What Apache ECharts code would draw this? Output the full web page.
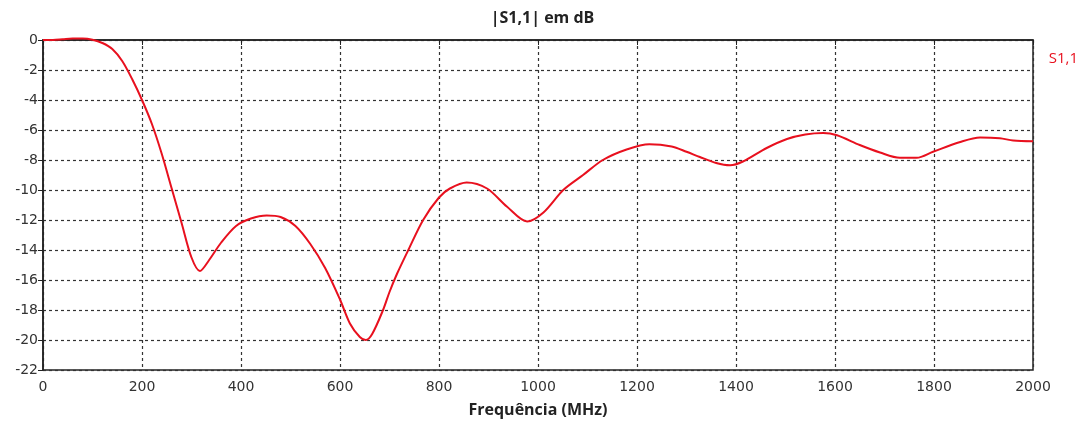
<!DOCTYPE html>
<html>
<head>
<meta charset="utf-8">
<script src="https://cdn.jsdelivr.net/npm/echarts@6/dist/echarts.min.js"></script>
<style>
    html, body { margin: 0; padding: 0; background: #fff; }
    #display-chart { width: 1085px; height: 421px; }
</style>
</head>
<body>
<div id="display-chart"></div>
<script>
// 频率 (MHz)
var freq = [0, 20, 40, 60, 80, 100, 120, 140, 160, 180, 200, 220, 240, 260, 280, 300, 317, 335, 360, 390,
    420, 452, 480, 510, 540, 570, 600, 620, 640, 652, 665, 687, 700, 715, 738, 768, 800, 822, 856, 897,
    937, 978, 1011, 1051, 1091, 1131, 1179, 1225, 1270, 1300, 1327, 1360, 1388, 1414, 1462, 1503, 1540,
    1576, 1604, 1650, 1691, 1731, 1765, 1798, 1853, 1893, 1933, 1960, 2000];
// |S1,1| (dB)
var s11 = [0, 0, 0.05, 0.1, 0.1, 0.02, -0.2, -0.6, -1.4, -2.6, -4, -5.6, -7.6, -9.9, -12.2, -14.5, -15.4, -14.7, -13.5, -12.4,
    -11.9, -11.7, -11.8, -12.4, -13.6, -15.2, -17.3, -18.9, -19.8, -20, -19.6, -18, -16.8, -15.6, -14, -12, -10.5, -9.9, -9.5, -9.9,
    -11.1, -12.1, -11.5, -10, -9, -8, -7.3, -6.95, -7.1, -7.45, -7.8, -8.2, -8.35, -8.1, -7.2, -6.6, -6.3,
    -6.2, -6.35, -7, -7.5, -7.85, -7.85, -7.45, -6.8, -6.5, -6.55, -6.7, -6.75];
var seriesName = 'S1,1';

generateChart();

function generateChart() {
    var myChart = echarts.init(document.getElementById("display-chart"));
    var points = [];
    for (var i = 0; i < freq.length; i++) {
        points.push([freq[i], s11[i]]);
    }
    myChart.setOption({
        animation: false,
        title: {
            text: '|S1,1| em dB',
            left: 'center',
            top: 5,
            textStyle: {
                fontFamily: 'Open Sans',
                fontSize: 16,
                fontWeight: 'bold',
                color: '#222'
            }
        },
        legend: { //图例
            right: 2,
            top: 46,
            icon: 'none',
            itemWidth: 0,
            data: [seriesName],
            textStyle: {
                color: '#e8101e',
                fontFamily: 'Open Sans',
                fontSize: 15
            }
        },
        grid: {
            left: 43,
            right: 52,
            top: 40,
            bottom: 51,
            outerBoundsMode: 'none',
            show: true,
            borderColor: '#222',
            borderWidth: 1.5
        },
        xAxis: {
            type: 'value',
            min: 0,
            max: 2000,
            interval: 200,
            name: 'Frequência (MHz)',
            nameLocation: 'middle',
            nameGap: 32,
            nameTextStyle: {
                fontFamily: 'Open Sans',
                fontSize: 16,
                fontWeight: 'bold',
                color: '#222'
            },
            axisLine: { lineStyle: { color: '#222', width: 1.5 } },
            axisTick: { show: true, length: 5, lineStyle: { color: '#222' } },
            axisLabel: {
                fontFamily: 'DejaVu Sans',
                fontSize: 14,
                color: '#333',
                margin: 10,
                formatter: function (v) { return String(v); }
            },
            splitLine: {
                lineStyle: { color: '#333', type: [3, 3], width: 1.2 }
            }
        },
        yAxis: {
            type: 'value',
            min: -22,
            max: 0,
            interval: 2,
            axisLine: { show: true, lineStyle: { color: '#222', width: 1.5 } },
            axisTick: { show: true, length: 5, lineStyle: { color: '#222' } },
            axisLabel: {
                fontFamily: 'DejaVu Sans',
                fontSize: 14,
                color: '#333',
                margin: 5
            },
            splitLine: {
                lineStyle: { color: '#333', type: [3, 3], width: 1.2 }
            }
        },
        series: [{
            name: seriesName,
            type: 'line',
            data: points,
            smooth: 0.3,
            clip: false,
            showSymbol: false,
            lineStyle: { color: '#e8101e', width: 2 },
            itemStyle: { color: '#e8101e' }
        }]
    });
}
</script>
</body>
</html>
